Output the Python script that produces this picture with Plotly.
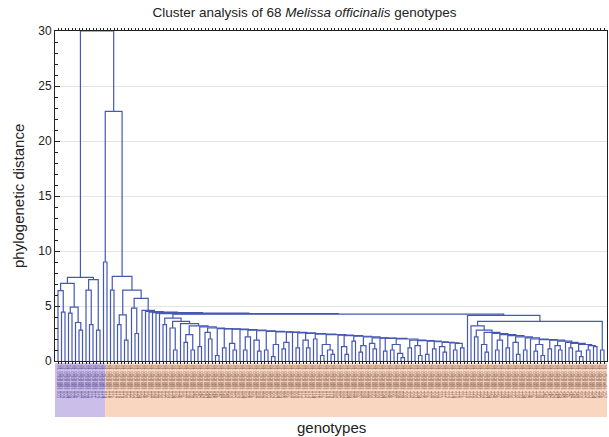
import plotly.graph_objects as go

# ---- dendrogram data: nested [merge_height, left, right]; _ marks a single genotype ----
_ = None

# left group (first 14 genotypes, purple band)
GROUP_A = [7.6,
           [7.05, [6.4, _, [4.45, _, _]], [4.9, [4.35, _, _], [3.5, _, [2.8, _, _]]]],
           [7.4, [6.45, _, [3.3, _, _]], [2.8, _, _]]]
PAIR_B = [9.0, _, _]

# main chained cluster in the middle of the tree: (link height, sub-cluster)
CMAIN_LINKS = [
    (3.9, [3.3, _, _]), (3.6, [3.0, _, [1.0, _, _]]), (3.4, _),
    (3.2, [2.4, [1.7, _, _], [1.0, _, _]]), (3.1, [1.3, _, _]),
    (3.0, [2.6, _, [2.0, _, _]]), (2.95, [0.5, _, _]), (2.92, [1.2, _, _]),
    (2.9, [1.6, _, [1.0, _, _]]), (2.85, _), (2.8, [2.2, [1.0, _, _], _]),
    (2.75, [1.9, _, [0.9, _, _]]), (2.7, [1.0, _, _]),
    (2.65, [1.5, [0.4, _, _], _]), (2.62, [1.7, [1.1, _, _], _]), (2.6, _),
    (2.55, [1.2, _, _]), (2.5, [1.9, _, [1.2, _, _]]), (2.45, [2.0, _, _]),
    (2.4, [1.5, [0.5, _, _], [1.0, _, [0.6, _, _]]]), (2.35, _),
    (2.3, [1.3, _, [0.6, _, _]]), (2.25, [1.8, _, _]), (2.2, [1.4, [0.8, _, _], _]),
    (2.1, [1.6, _, [1.1, _, _]]), (2.08, _), (2.05, [0.9, _, _]),
    (2.0, [1.5, [1.0, _, _], [0.7, _, [0.3, _, _]]]), (1.9, [1.2, _, _]),
    (1.85, [1.4, _, [0.5, _, _]]), (1.8, [0.6, _, _]), (1.75, [1.1, _, _]),
    (1.7, [1.3, _, [0.8, _, _]]), (1.65, _),
]
CMAIN_LAST = [1.6, [1.0, _, _], [1.2, _, _]]

# right-hand cluster
D1_LINKS = [
    (3.2, _), (2.8, [2.2, _, _]), (2.6, [1.5, _, [0.8, _, _]]), (2.5, _),
    (2.4, [1.9, [1.0, _, _], _]), (2.3, [1.2, _, _]), (2.2, [1.7, _, [0.6, _, _]]),
    (2.1, [1.0, _, _]), (2.0, _), (1.95, [1.5, [0.9, _, _], [0.5, _, _]]),
    (1.9, [1.1, _, _]), (1.8, [1.4, _, [1.0, _, _]]), (1.7, _),
    (1.6, [1.2, _, _]), (1.5, [0.9, _, [0.4, _, _]]),
]
D1_LAST = [1.4, [1.0, _, _], [1.3, _, _]]
D2 = [1.0, _, _]

# upper chain joining the middle and right clusters
TOP_HEIGHTS = [4.6, 4.5, 4.45, 4.4, 4.35, 4.3]
CMAIN_JOIN = 4.27
RIGHT_JOIN = 4.15
D_JOIN = 3.6

# staircase above the chain
B2_LEFT = [6.45, _, _]
P_CLUSTER = [4.2, [3.3, _, _], [1.9, _, _]]
Q_LEFT = [4.8, _, [2.5, _, _]]
Q_HEIGHT = 5.7
R_HEIGHT = 6.45
B2_HEIGHT = 7.7
B_HEIGHT = 22.7
ROOT_HEIGHT = 30.0

PURPLE_LEAVES = 14


def chain(links, last):
    node = last
    for h, sub in reversed(links):
        node = [h, sub, node]
    return node


cmain = chain(CMAIN_LINKS, CMAIN_LAST)
d_prime = [D_JOIN, chain(D1_LINKS, D1_LAST), D2]
top = [RIGHT_JOIN, _, d_prime]
top = [CMAIN_JOIN, cmain, top]
for h in reversed(TOP_HEIGHTS):
    top = [h, _, top]
q = [Q_HEIGHT, Q_LEFT, top]
r = [R_HEIGHT, P_CLUSTER, q]
b2 = [B2_HEIGHT, B2_LEFT, r]
b = [B_HEIGHT, PAIR_B, b2]
tree = [ROOT_HEIGHT, GROUP_A, b]

xs, ys = [], []
leaf_count = [0]


def place(node):
    if node is None:
        i = leaf_count[0]
        leaf_count[0] += 1
        return float(i), 0.0
    h, left, right = node
    xl, hl = place(left)
    xr, hr = place(right)
    xs.extend([xl, xl, xr, xr, None])
    ys.extend([hl, h, h, hr, None])
    return (xl + xr) / 2.0, h


place(tree)
N = leaf_count[0]
LEAF_LABELS = [f"M. officinalis {k:03d}" for k in range(1, N + 1)]

x0, x1 = -0.857, N - 1 + 0.857

fig = go.Figure()
fig.add_trace(go.Scatter(x=xs, y=ys, mode="lines",
                         line=dict(color="#4558b4", width=1.2),
                         hoverinfo="skip", showlegend=False))

# coloured label bands under the axis
split = (PURPLE_LEAVES - 0.5 - x0) / (x1 - x0)
fig.add_shape(type="rect", xref="paper", yref="paper", x0=0, x1=split,
              y0=-0.1697, y1=-0.006, fillcolor="#cbbfe9", line_width=0, layer="below")
fig.add_shape(type="rect", xref="paper", yref="paper", x0=split, x1=1,
              y0=-0.1697, y1=-0.006, fillcolor="#f9d6c0", line_width=0, layer="below")

ticktext = [
    (f'<span style="color:#5f4f96">{t}</span>' if i < PURPLE_LEAVES
     else f'<span style="color:#86604f">{t}</span>')
    for i, t in enumerate(LEAF_LABELS)
]

fig.update_layout(
    width=609, height=437,
    margin=dict(l=55, r=2, t=31, b=76),
    paper_bgcolor="white", plot_bgcolor="white",
    font=dict(family="Arial, Liberation Sans, sans-serif", color="#222"),
    title=dict(text="Cluster analysis of 68 <i>Melissa officinalis</i> genotypes",
               x=0.5, xanchor="center", y=1 - 12 / 437, yanchor="middle",
               font=dict(size=13.5, color="#222")),
    xaxis=dict(range=[x0, x1], tickvals=list(range(N)), ticktext=ticktext,
               tickangle=90, tickfont=dict(size=4.5),
               ticks="outside", ticklen=2, tickcolor="#222",
               showgrid=False, zeroline=False,
               showline=True, linecolor="#222", linewidth=1, mirror="ticks"),
    yaxis=dict(range=[0, 30], dtick=5, tickfont=dict(size=12, color="#222"),
               ticks="inside", ticklen=5, tickcolor="#222",
               minor=dict(dtick=1, ticks="inside", ticklen=3, tickcolor="#222"),
               showgrid=True, gridcolor="#e4e4e4", zeroline=False,
               showline=True, linecolor="#222", linewidth=1, mirror=True),
    annotations=[
        dict(text="phylogenetic distance", xref="paper", yref="paper",
             x=-0.067, y=0.5, textangle=-90, showarrow=False,
             xanchor="center", yanchor="middle", font=dict(size=15, color="#222")),
        dict(text="genotypes", xref="paper", yref="paper",
             x=0.5, y=-0.2, showarrow=False,
             xanchor="center", yanchor="middle", font=dict(size=15, color="#222")),
    ],
)

fig.write_html("out.html")
